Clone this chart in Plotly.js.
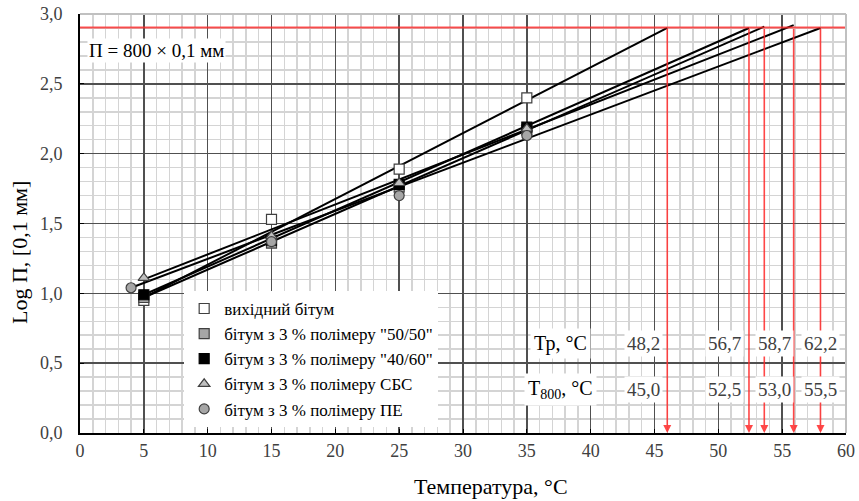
<!DOCTYPE html>
<html>
<head>
<meta charset="utf-8">
<script src="https://cdn.plot.ly/plotly-3.0.1.min.js"></script>
<style>html,body{margin:0;padding:0;background:#fff;}#chart{width:859px;height:501px;}</style>
</head>
<body>
<div id="chart"></div>
<script>
// ---- data ----
const seriesNames = ['вихідний бітум', 'бітум з 3 % полімеру "50/50"', 'бітум з 3 % полімеру "40/60"', 'бітум з 3 % полімеру СБС', 'бітум з 3 % полімеру ПЕ'];
const tempA = [5, 15, 25, 35];
const logPA = [0.95, 1.53, 1.89, 2.40];
const tempB = [5, 15, 25, 35];
const logPB = [0.97, 1.36, 1.76, 2.17];
const tempC = [5, 15, 25, 35];
const logPC = [0.99, 1.38, 1.78, 2.19];
const tempD = [5, 15, 25, 35];
const logPD = [1.11, 1.41, 1.79, 2.18];
const tempE = [4, 15, 25, 35];
const logPE = [1.04, 1.37, 1.70, 2.13];
// trend lines (start / end)
const trendX = [[5, 46.0], [5, 53.6], [5, 52.4], [5, 55.9], [4, 58.0]];
const trendY = [[0.97, 2.90], [0.97, 2.91], [0.99, 2.90], [1.10, 2.92], [1.04, 2.90]];
// penetration 800 x 0.1 mm level and crossing temperatures
const level800 = 2.903;
const crossT = [46.0, 52.4, 53.6, 55.9, 58.0];
// table
const tableRowLabels = ['Тр, °C', 'T<sub>800</sub>, °C'];
const tpValues = ['48,2', '56,7', '58,7', '62,2'];
const t800Values = ['45,0', '52,5', '53,0', '55,5'];
const tableColX = [44.1, 50.5, 54.4, 58.0];
const tableRowY = [0.64, 0.31];
const tableLabelX = 37.6;
const xTitle = 'Температура, °C';
const yTitle = 'Log П, [0,1 мм]';

const FONT = 'Liberation Serif';
const xs = [tempA, tempB, tempC, tempD, tempE];
const ys = [logPA, logPB, logPC, logPD, logPE];
const markers = [
  {symbol: 'square', color: '#ffffff', size: 10, line: {color: '#404040', width: 1.2}},
  {symbol: 'square', color: '#a6a6a6', size: 10, line: {color: '#404040', width: 1.2}},
  {symbol: 'square', color: '#000000', size: 10, line: {color: '#000000', width: 1.2}},
  {symbol: 'triangle-up', color: '#bfbfbf', size: 10, line: {color: '#404040', width: 1.2}},
  {symbol: 'circle', color: '#a6a6a6', size: 10, line: {color: '#404040', width: 1.2}}
];

const traces = [];
for (let i = 0; i < 5; i++) {
  traces.push({x: trendX[i], y: trendY[i], mode: 'lines', line: {color: '#000', width: 2}, showlegend: false, hoverinfo: 'skip'});
}
for (let i = 0; i < 5; i++) {
  traces.push({x: xs[i], y: ys[i], mode: 'markers', name: seriesNames[i], marker: markers[i]});
}

// plot area in pixels: left 80, right 846, top 14, bottom 433
const PL = 80, PW = 766, PB = 433, PH = 419;
const annotations = [];
// red arrows
crossT.forEach(t => {
  annotations.push({x: t, y: 0, ax: t, ay: level800, xref: 'x', yref: 'y', axref: 'x', ayref: 'y',
    text: '', showarrow: true, arrowhead: 2, arrowsize: 1, arrowwidth: 1.6, arrowcolor: 'rgba(255,40,40,0.85)', standoff: 0});
});
annotations.push({x: 0.55, y: 2.74, xref: 'x', yref: 'y', xanchor: 'left', yanchor: 'middle', showarrow: false,
  text: 'П = 800 × 0,1 мм', font: {family: FONT, size: 19, color: '#000'}, bgcolor: '#fff'});
tableRowLabels.forEach((lbl, r) => {
  annotations.push({x: tableLabelX, y: tableRowY[r], xref: 'x', yref: 'y', showarrow: false, text: lbl,
    font: {family: FONT, size: 20, color: '#000'}, bgcolor: '#fff', borderpad: 3});
});
tableColX.forEach((cx, c) => {
  annotations.push({x: cx, y: tableRowY[0], xref: 'x', yref: 'y', showarrow: false, text: tpValues[c],
    font: {family: FONT, size: 19, color: '#404040'}, bgcolor: '#fff', borderpad: 2});
  annotations.push({x: cx, y: tableRowY[1], xref: 'x', yref: 'y', showarrow: false, text: t800Values[c],
    font: {family: FONT, size: 19, color: '#404040'}, bgcolor: '#fff', borderpad: 2});
});
// axis titles
annotations.push({x: (491 - PL) / PW, y: (PB - 486) / PH, xref: 'paper', yref: 'paper', xanchor: 'center', yanchor: 'middle',
  showarrow: false, text: xTitle, font: {family: FONT, size: 22, color: '#000'}});
annotations.push({x: (20 - PL) / PW, y: (PB - 253) / PH, xref: 'paper', yref: 'paper', xanchor: 'center', yanchor: 'middle',
  showarrow: false, textangle: -90, text: yTitle, font: {family: FONT, size: 22, color: '#000'}});

const layout = {
  width: 859, height: 501,
  margin: {l: 80, r: 13, t: 14, b: 68},
  paper_bgcolor: '#fff', plot_bgcolor: '#fff',
  separators: ', ',
  font: {family: FONT, size: 18, color: '#404040'},
  xaxis: {range: [0, 60], dtick: 5, tick0: 0, showgrid: true, gridcolor: '#505050', gridwidth: 1.5,
    minor: {dtick: 1, showgrid: true, gridcolor: '#d4d4d4', gridwidth: 1.5},
    showline: true, linecolor: '#000', linewidth: 2, ticks: 'inside', ticklen: 4, tickcolor: '#000', zeroline: false,
    tickfont: {family: FONT, size: 18, color: '#404040'}},
  yaxis: {range: [0, 3], dtick: 0.5, tick0: 0, tickformat: '.1f', showgrid: true, gridcolor: '#505050', gridwidth: 1.5,
    minor: {dtick: 0.1, showgrid: true, gridcolor: '#d4d4d4', gridwidth: 1.5},
    showline: true, linecolor: '#000', linewidth: 2, ticks: 'inside', ticklen: 4, tickcolor: '#000', zeroline: false,
    ticklabelstandoff: 12,
    tickfont: {family: FONT, size: 18, color: '#404040'}},
  shapes: [
    {type: 'line', xref: 'x', yref: 'y', x0: 0, x1: 60, y0: level800, y1: level800, line: {color: 'rgba(255,40,40,0.8)', width: 2}},
    {type: 'line', xref: 'paper', yref: 'paper', x0: 0, x1: 1, y0: 1, y1: 1, line: {color: '#c0c0c0', width: 2}},
    {type: 'line', xref: 'paper', yref: 'paper', x0: 1, x1: 1, y0: 0, y1: 1, line: {color: '#c0c0c0', width: 2}}
  ],
  legend: {x: 0.136, y: 0.339, xanchor: 'left', yanchor: 'top', bgcolor: '#fff', borderwidth: 0,
    font: {family: FONT, size: 17, color: '#000'}, itemwidth: 30, tracegroupgap: 0},
  annotations: annotations
};

Plotly.newPlot('chart', traces, layout, {displayModeBar: false, staticPlot: true});
</script>
</body>
</html>
